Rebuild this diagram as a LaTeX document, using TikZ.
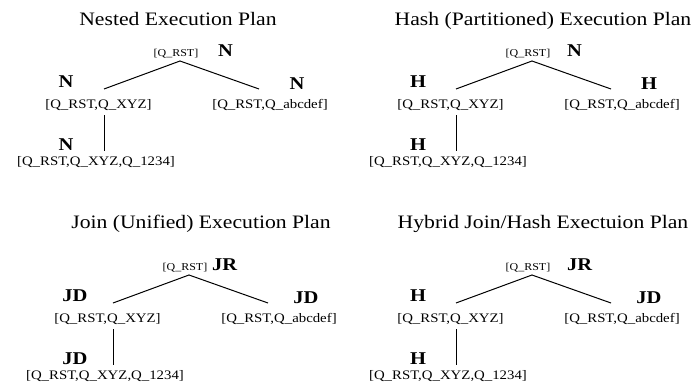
\documentclass[tikz,border=0pt]{standalone}
\usepackage{fontspec}
\setmainfont{Liberation Serif}
\tikzset{
  ttl/.style={font=\fontsize{19}{19}\selectfont, anchor=base, inner sep=0pt},
  lbl/.style={font=\fontsize{13}{13}\selectfont, anchor=base, inner sep=0pt},
  rootlbl/.style={font=\fontsize{10.5}{10.5}\selectfont, anchor=base, inner sep=0pt},
  opl/.style={font=\bfseries\fontsize{18}{18}\selectfont, anchor=base, inner sep=0pt},
  edgeln/.style={line width=1pt}
}
\newcommand\sx[1]{\scalebox{1.14}[1]{#1}}
\newcommand\planTree[7]{%
\begin{scope}[shift={(#2,#3)}]
 \node[rootlbl] (#1root) at (176,56) {\sx{[Q\_RST]}};
 \node[opl, anchor=base west] (#1rop) at (#5,56) {\sx{#4}};
 \coordinate (#1apex) at (180,61);
 \node[opl] (#1lop) at (66,87) {\sx{#6}};
 \node[lbl] (#1lchild) at (98.5,108) {\sx{[Q\_RST,Q\_XYZ]}};
 \coordinate (#1lend) at (104,89);
 \node[opl] (#1bop) at (66,150) {\sx{#6}};
 \node[lbl] (#1bchild) at (96,165) {\sx{[Q\_RST,Q\_XYZ,Q\_1234]}};
 \coordinate (#1vtop) at (104,115);
 \coordinate (#1vbot) at (104,151);
 \node[opl] (#1rop2) at (297,89) {\sx{#7}};
 \node[lbl] (#1rchild) at (270,108) {\sx{[Q\_RST,Q\_abcdef]}};
 \coordinate (#1rend) at (259,89);
 \draw[edgeln] (#1lend) -- (#1apex) -- (#1rend);
 \draw[edgeln] (#1vtop) -- (#1vbot);
\end{scope}}
\begin{document}
\begin{tikzpicture}[x=1pt,y=-1pt]
\useasboundingbox (0,0) rectangle (691,383);
\node[ttl] (t1) at (178,25) {\sx{Nested Execution Plan}};
\node[ttl] (t2) at (543,25) {\sx{Hash (Partitioned) Execution Plan}};
\node[ttl] (t3) at (201,228) {\sx{Join (Unified) Execution Plan}};
\node[ttl] (t4) at (543,228) {\sx{Hybrid Join/Hash Exectuion Plan}};
\planTree{a}{0}{0}{N}{218}{N}{N}
\planTree{b}{352}{0}{N}{215}{H}{H}
\planTree{c}{9}{214}{JR}{203}{JD}{JD}
\planTree{d}{352}{214}{JR}{215}{H}{JD}
\end{tikzpicture}
\end{document}
